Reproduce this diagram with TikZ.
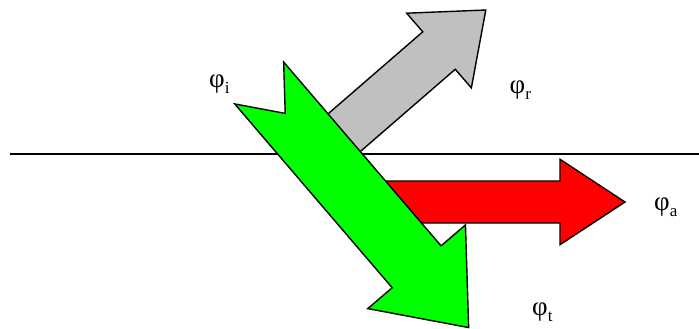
\documentclass[tikz,border=0pt]{standalone}
\usepackage{fontspec}
\setmainfont{Liberation Serif}

\definecolor{silver}{RGB}{192,192,192}
\definecolor{lime}{RGB}{0,255,0}
\definecolor{pure red}{RGB}{255,0,0}

% phi with a lowered index
\newcommand{\phisub}[1]{φ\raisebox{-6pt}{\fontsize{17}{17}\selectfont #1}}
% fat arrow along the local x axis: style, shaft length, shaft half width, head half width, head length, tail notch
\newcommand{\fatarrow}[6]{\draw[#1] (0,-#3) -- (#2,-#3) -- (#2,-#4) -- ({#2+#5},0) -- (#2,#4) -- (#2,#3) -- (0,#3) -- (#6,0) -- cycle;}

\tikzset{
  arrowbody/.style={line width=1.4pt,draw=black,line join=miter},
  wavelabel/.style={anchor=base west,inner sep=0pt,font=\fontsize{27}{30}\selectfont}
}

\begin{document}
\begin{tikzpicture}[x=1pt,y=-1pt]
  \useasboundingbox (0,0) rectangle (699,329);
  % interface
  \draw[line width=1.5pt] (10,154) -- (699,154);
  % reflected
  \begin{scope}[shift={(333.2,142.2)},rotate=40.9]
    \fatarrow{arrowbody,fill=silver}{140}{24.8}{49.4}{61.9}{0}
  \end{scope}
  % absorbed
  \begin{scope}[shift={(360,202)}]
    \fatarrow{arrowbody,fill=pure red}{200}{21}{42.7}{65}{0}
  \end{scope}
  % incident and transmitted
  \begin{scope}[shift={(259.2,83)},rotate=-49.42]
    \fatarrow{arrowbody,fill=lime}{242}{32.2}{64.3}{80}{40}
  \end{scope}
  \node[wavelabel] (phii) at (209,88) {\phisub{i}};
  \node[wavelabel] (phir) at (509.5,93) {\phisub{r}};
  \node[wavelabel] (phia) at (654,210) {\phisub{a}};
  \node[wavelabel] (phit) at (532,315) {\phisub{t}};
\end{tikzpicture}
\end{document}
